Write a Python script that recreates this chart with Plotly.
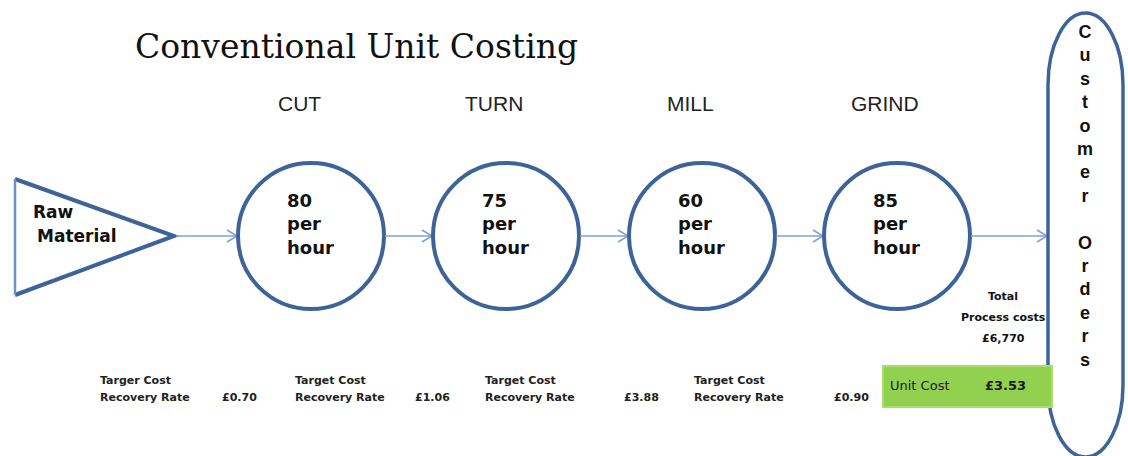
import plotly.graph_objects as go

# ---- data ----
title_text = "Conventional Unit Costing"
stations = ["CUT", "TURN", "MILL", "GRIND"]
rates_per_hour = [80, 75, 60, 85]
target_labels = ["Targer Cost", "Target Cost", "Target Cost", "Target Cost"]
recovery_rates = ["£0.70", "£1.06", "£3.88", "£0.90"]
total_process_costs = "£6,770"
unit_cost = "£3.53"
sink_label = "Customer Orders"

# ---- layout constants ----
W, H = 1128, 456
circle_cx = [311, 506, 702, 897]
circle_cy = 236
circle_r = 73
label_x = [98, 293, 483, 692]
value_x = [220, 413, 622, 832]
DARK = "#3e6497"
ARROW = "#7fa2d4"

fig = go.Figure()
fig.add_trace(go.Scatter(x=[0, W], y=[0, H], mode="markers",
                         marker=dict(opacity=0), hoverinfo="skip", showlegend=False))

shapes = []
annotations = []

def text(x, y, s, size, family="DejaVu Sans", weight="normal", color="#111",
         xanchor="left", yanchor="middle", align="left"):
    annotations.append(dict(x=x, y=y, xref="x", yref="y", text=s, showarrow=False,
                            xanchor=xanchor, yanchor=yanchor, align=align,
                            font=dict(family=family, size=size, color=color, weight=weight)))

def arrow(x0, x1, y):
    shapes.append(dict(type="line", x0=x0, x1=x1, y0=y, y1=y,
                       line=dict(color=ARROW, width=1.6)))
    shapes.append(dict(type="path",
                       path=f"M {x1-10},{y-6} L {x1},{y} L {x1-10},{y+6}",
                       line=dict(color=ARROW, width=1.6)))

# Title
text(356, 46, title_text, 33, family="DejaVu Serif", color="#111", xanchor="center")

# Raw material triangle
tri_left, tri_top, tri_bot, tri_tip = 15, 179, 295, 174
shapes.append(dict(type="path",
                   path=f"M {tri_left},{tri_top} L {tri_tip},{circle_cy} L {tri_left},{tri_bot}",
                   line=dict(color=DARK, width=4)))
shapes.append(dict(type="line", x0=tri_left, x1=tri_left, y0=tri_top, y1=tri_bot,
                   line=dict(color="#6f90c4", width=2.5)))
text(31, 212, "Raw", 17, weight="bold")
text(35, 236, "Material", 17, weight="bold")

# Arrow from triangle to first station
arrow(tri_tip + 2, circle_cx[0] - circle_r - 1, circle_cy)

for i, (name, rate) in enumerate(zip(stations, rates_per_hour)):
    cx = circle_cx[i]
    shapes.append(dict(type="circle", x0=cx - circle_r, x1=cx + circle_r,
                       y0=circle_cy - circle_r, y1=circle_cy + circle_r,
                       line=dict(color=DARK, width=4), fillcolor="rgba(0,0,0,0)"))
    text(cx - 12, 103, name, 21, family="Liberation Sans", color="#222", xanchor="center")
    text(cx - 26, 224, f"{rate}<br>per<br>hour", 18, weight="bold")
    if i < len(stations) - 1:
        arrow(cx + circle_r + 1, circle_cx[i + 1] - circle_r - 1, circle_cy)

# Arrow to customer orders
stad_L, stad_R, stad_T, stad_B = 1048, 1123, 13, 457
arrow(circle_cx[-1] + circle_r + 1, stad_L - 1, circle_cy)

# Customer orders stadium
k = 0.5523
rx = (stad_R - stad_L) / 2
cxs = (stad_L + stad_R) / 2
ry = 72
cT, cB = stad_T + ry, stad_B - ry
path = (f"M {stad_L},{cT} "
        f"C {stad_L},{cT - k*ry} {cxs - k*rx},{stad_T} {cxs},{stad_T} "
        f"C {cxs + k*rx},{stad_T} {stad_R},{cT - k*ry} {stad_R},{cT} "
        f"L {stad_R},{cB} "
        f"C {stad_R},{cB + k*ry} {cxs + k*rx},{stad_B} {cxs},{stad_B} "
        f"C {cxs - k*rx},{stad_B} {stad_L},{cB + k*ry} {stad_L},{cB} Z")
shapes.append(dict(type="path", path=path, line=dict(color=DARK, width=3.5)))
text(1085, 196, "<br>".join(list(sink_label)), 18, family="Liberation Sans",
     weight="bold", xanchor="center", align="center")

# Total process costs
text(1003, 296, "Total", 11, weight="bold", xanchor="center")
text(1003, 317, "Process costs", 11, weight="bold", xanchor="center")
text(1003, 338, total_process_costs, 11, weight="bold", xanchor="center")

# Unit cost box
shapes.append(dict(type="rect", x0=883, x1=1052, y0=366, y1=407,
                   fillcolor="#92d050", line=dict(color="#a8df6a", width=2)))
text(888, 385, "Unit Cost", 13, color="#1a1a1a")
text(983, 385, unit_cost, 13, color="#1a1a1a", weight="bold")

# Target cost recovery rates
for i in range(len(stations)):
    text(label_x[i], 380, target_labels[i], 11, weight="bold", color="#222")
    text(label_x[i], 397, "Recovery Rate", 11, weight="bold", color="#222")
    text(value_x[i], 397, recovery_rates[i], 11, weight="bold", color="#222")

fig.update_layout(
    width=W, height=H,
    margin=dict(l=0, r=0, t=0, b=0),
    paper_bgcolor="white", plot_bgcolor="white",
    xaxis=dict(range=[0, W], visible=False, fixedrange=True),
    yaxis=dict(range=[H, 0], visible=False, fixedrange=True),
    shapes=shapes, annotations=annotations, showlegend=False,
)
fig.write_html("out.html", config={"displayModeBar": False},
               post_script="document.body.style.margin='0px';document.body.style.overflow='hidden';")
